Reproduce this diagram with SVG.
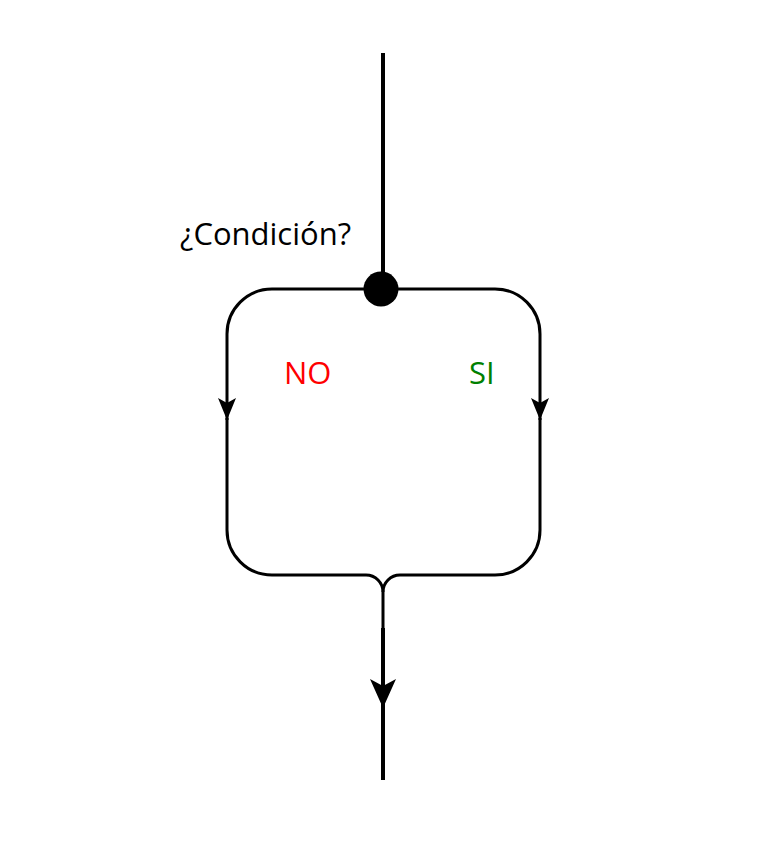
<svg xmlns="http://www.w3.org/2000/svg" width="769" height="858" viewBox="0 0 769 858">
<style>
.ln{fill:none;stroke:#000;stroke-width:3;}
.thick{fill:none;stroke:#000;stroke-width:4;}
.lbl{font-family:"Open Sans","Noto Sans",sans-serif;font-size:31px;}
</style>
<defs>
<marker id="arrS" markerUnits="userSpaceOnUse" viewBox="0 0 22 18" refX="22" refY="9" markerWidth="22" markerHeight="18" orient="auto">
<path d="M0,0 L22,9 L0,18 L5,9 Z" fill="#000"/>
</marker>
<marker id="arrL" markerUnits="userSpaceOnUse" viewBox="0 0 29 26" refX="29" refY="13" markerWidth="29" markerHeight="26" orient="auto">
<path d="M0,0 L29,13 L0,26 L7,13 Z" fill="#000"/>
</marker>
</defs>
<rect width="769" height="858" fill="#fff"/>
<g id="connectors">
<path class="thick" d="M383,53 V289"/>
<path class="ln" d="M381,289 H272 A45,45 0 0 0 227,334 V420" marker-end="url(#arrS)"/>
<path class="ln" d="M227,418 V530 A45,45 0 0 0 272,575 H366 A17,17 0 0 1 383,592"/>
<path class="ln" d="M381,289 H495 A45,45 0 0 1 540,334 V420" marker-end="url(#arrS)"/>
<path class="ln" d="M540,418 V530 A45,45 0 0 1 495,575 H400 A17,17 0 0 0 383,592 V630"/>
<path class="thick" d="M383,628 V708" marker-end="url(#arrL)"/>
<path class="thick" d="M383,700 V780"/>
</g>
<g id="decision">
<circle cx="381" cy="289" r="17.5" fill="#000"/>
<text class="lbl" x="180" y="245">¿Condición?</text>
</g>
<g id="label-no"><text class="lbl" x="284" y="384" fill="#ff0000">NO</text></g>
<g id="label-si"><text class="lbl" x="469" y="384" fill="#008000">SI</text></g>
</svg>
